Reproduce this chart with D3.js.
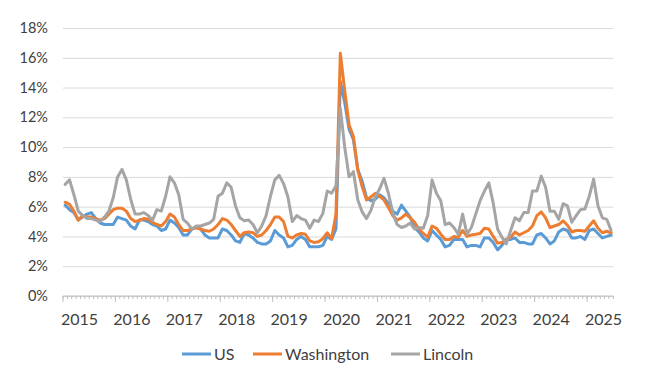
<!DOCTYPE html>
<html><head><meta charset="utf-8">
<script src="https://cdn.jsdelivr.net/npm/d3@7"></script>
<style>body{margin:0;background:#fff}svg{display:block}text{font-family:Lato,"Open Sans",sans-serif;fill:#404040}</style>
</head><body>
<svg id="c" width="650" height="379"></svg>
<script>
const years = [2015,2016,2017,2018,2019,2020,2021,2022,2023,2024,2025];
const lastMonth2025 = 6;
const yTickValues = [0,2,4,6,8,10,12,14,16,18];
const seriesNames = ["US","Washington","Lincoln"];
const seriesColors = ["#5b9bd5","#ed7d31","#a5a5a5"];

const us = [
6.1,5.8,5.6,5.1,5.3,5.5,5.6,5.2,4.9,4.8,4.8,4.8,
5.3,5.2,5.1,4.7,4.5,5.1,5.1,5.0,4.8,4.7,4.4,4.5,
5.1,4.9,4.6,4.1,4.1,4.5,4.6,4.5,4.1,3.9,3.9,3.9,
4.5,4.4,4.1,3.7,3.6,4.2,4.1,3.9,3.6,3.5,3.5,3.7,
4.4,4.1,3.9,3.3,3.4,3.8,4.0,3.8,3.3,3.3,3.3,3.4,
4.0,3.8,4.5,14.4,13.0,11.2,10.5,8.5,7.7,6.6,6.4,6.5,
6.8,6.6,6.2,5.7,5.5,6.1,5.7,5.3,4.6,4.3,3.9,3.7,
4.4,4.1,3.8,3.3,3.4,3.8,3.8,3.8,3.3,3.4,3.4,3.3,
3.9,3.9,3.6,3.1,3.4,3.8,3.8,3.9,3.6,3.6,3.5,3.5,
4.1,4.2,3.9,3.5,3.7,4.3,4.5,4.4,3.9,3.9,4.0,3.8,
4.4,4.5,4.2,3.9,4.0,4.1];

const washington = [
6.3,6.15,5.7,5.1,5.4,5.3,5.3,5.2,5.1,5.2,5.5,5.8,
5.9,5.9,5.7,5.2,5.0,5.1,5.2,5.15,4.95,4.8,4.7,5.0,
5.5,5.3,4.8,4.4,4.4,4.5,4.6,4.5,4.4,4.35,4.5,4.8,
5.2,5.1,4.8,4.4,4.0,4.25,4.3,4.25,4.0,4.1,4.4,4.8,
5.3,5.3,5.0,4.0,3.9,4.1,4.2,4.15,3.7,3.6,3.65,3.85,
4.25,3.85,5.5,16.3,13.8,11.5,10.7,8.45,7.35,6.45,6.65,6.9,
6.7,6.45,5.95,5.4,5.1,5.25,5.5,5.25,4.95,4.5,4.2,3.95,
4.7,4.55,4.15,3.8,3.8,4.0,3.95,4.4,4.0,4.1,4.15,4.2,
4.55,4.5,4.0,3.55,3.6,3.8,3.95,4.3,4.1,4.25,4.4,4.7,
5.4,5.65,5.25,4.6,4.7,4.8,5.05,4.75,4.3,4.4,4.4,4.35,
4.7,5.05,4.55,4.25,4.35,4.25];

const lincoln = [
7.5,7.8,6.8,5.7,5.4,5.2,5.2,5.1,5.0,5.3,5.7,6.6,
8.0,8.5,7.8,6.5,5.5,5.5,5.6,5.4,5.1,5.8,5.7,6.7,
8.0,7.6,6.8,5.15,4.9,4.5,4.7,4.7,4.8,4.9,5.15,6.7,
6.9,7.6,7.3,6.05,5.25,5.05,5.1,4.8,4.25,4.7,5.4,6.7,
7.8,8.1,7.55,6.65,5.0,5.4,5.2,5.1,4.55,5.1,5.0,5.55,
7.05,6.9,7.4,12.6,10.0,8.0,8.35,6.45,5.65,5.2,5.75,6.65,
7.2,7.9,6.9,5.6,4.8,4.6,4.7,4.9,4.5,4.6,4.55,5.4,
7.8,6.9,6.4,4.8,4.9,4.6,4.15,5.5,4.15,4.6,5.5,6.4,
7.05,7.6,6.25,4.5,3.95,3.5,4.4,5.25,5.05,5.6,5.6,7.05,
7.05,8.05,7.3,5.7,5.7,5.15,6.2,6.05,4.95,5.4,5.8,5.85,
6.7,7.85,6.05,5.25,5.15,4.4];

const series = [us, washington, lincoln];

const months = [];
years.forEach(yr => { const n = yr === 2025 ? lastMonth2025 : 12; for (let m = 1; m <= n; m++) months.push(yr + "-" + m); });

const svg = d3.select("#c");
const plotLeft = 63, plotRight = 613.3, plotTop = 28, plotBottom = 296;
const x = d3.scaleBand().domain(months).range([plotLeft, plotRight]).padding(0);
const y = d3.scaleLinear().domain([0, 18]).range([plotBottom, plotTop]);

// gridlines + y labels
const yAxis = d3.axisLeft(y).tickValues(yTickValues).tickFormat(d => d + "%").tickSize(-(plotRight - plotLeft)).tickPadding(15);
const gy = svg.append("g").attr("transform", `translate(${plotLeft},0)`).call(yAxis);
gy.select(".domain").remove();
gy.selectAll(".tick line").attr("stroke", "#d9d9d9").attr("stroke-width", 1);
gy.selectAll(".tick text").attr("font-size", 14.5).attr("fill", "#404040").style("font-family", "Lato");

// x axis
const gx = svg.append("g");
gx.append("line").attr("x1", plotLeft).attr("x2", plotRight).attr("y1", y(0)).attr("y2", y(0)).attr("stroke", "#bfbfbf").attr("stroke-width", 1);
const bounds = months.map(m => x(m)).concat([plotRight]);
gx.selectAll("line.minor").data(bounds).join("line").attr("class", "minor")
  .attr("x1", d => d).attr("x2", d => d).attr("y1", y(0)).attr("y2", y(0) + 3)
  .attr("stroke", "#bfbfbf").attr("stroke-width", 1);
gx.selectAll("line.major").data(years).join("line").attr("class", "major")
  .attr("x1", d => x(d + "-1")).attr("x2", d => x(d + "-1")).attr("y1", y(0)).attr("y2", y(0) + 6)
  .attr("stroke", "#bfbfbf").attr("stroke-width", 1);
gx.selectAll("text").data(years).join("text")
  .attr("x", d => x(d + "-1") + 16.5).attr("y", y(0) + 29)
  .attr("text-anchor", "middle").attr("font-size", 16).text(d => d);

// lines
const line = d3.line().x((d, i) => x(months[i]) + x.bandwidth() / 2).y(d => y(d));
series.forEach((s, k) => {
  svg.append("path").datum(s).attr("d", line).attr("fill", "none")
    .attr("stroke", seriesColors[k]).attr("stroke-width", 3)
    .attr("stroke-linejoin", "round").attr("stroke-linecap", "round");
});

// legend
const legendX = [182, 253, 391];
const lg = svg.append("g");
seriesNames.forEach((n, k) => {
  lg.append("line").attr("x1", legendX[k]).attr("x2", legendX[k] + 29).attr("y1", 354).attr("y2", 354)
    .attr("stroke", seriesColors[k]).attr("stroke-width", 3);
  lg.append("text").attr("x", legendX[k] + 32).attr("y", 359.5).attr("font-size", 16).text(n);
});
</script>
</body></html>
